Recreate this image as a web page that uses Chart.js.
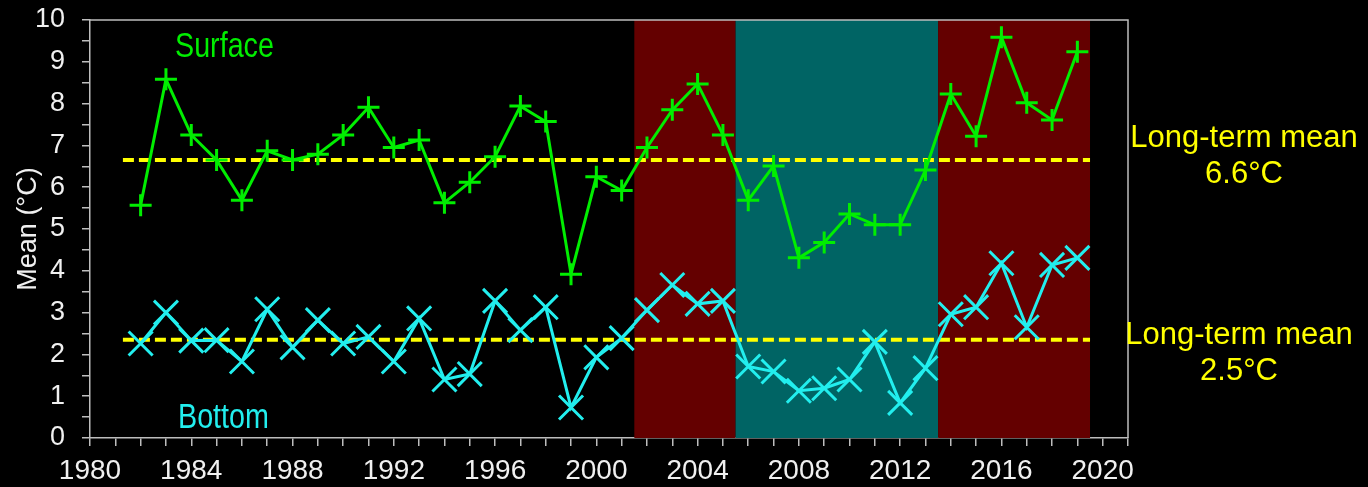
<!DOCTYPE html>
<html>
<head>
<meta charset="utf-8">
<script src="https://cdn.jsdelivr.net/npm/chart.js@4"></script>
<style>
  html, body { margin: 0; padding: 0; background: #000; }
  #wrap { width: 1368px; height: 487px; position: relative; }
</style>
</head>
<body>
<div id="wrap"><canvas id="meanChart"></canvas></div>
<script>
// Years and series values
const years = [1982, 1983, 1984, 1985, 1986, 1987, 1988, 1989, 1990, 1991,
  1992, 1993, 1994, 1995, 1996, 1997, 1998, 1999, 2000, 2001,
  2002, 2003, 2004, 2005, 2006, 2007, 2008, 2009, 2010, 2011,
  2012, 2013, 2014, 2015, 2016, 2017, 2018, 2019];
const surfaceValues = [5.57, 8.58, 7.25, 6.65, 5.69, 6.87, 6.65, 6.79, 7.25, 7.91,
  6.95, 7.13, 5.63, 6.12, 6.73, 7.94, 7.57, 3.92, 6.25, 5.92,
  6.95, 7.85, 8.47, 7.25, 5.69, 6.51, 4.31, 4.68, 5.36, 5.10,
  5.10, 6.41, 8.23, 7.22, 9.59, 8.02, 7.61, 9.24];
const bottomValues = [2.26, 3.00, 2.33, 2.34, 1.83, 3.08, 2.17, 2.82, 2.26, 2.42,
  1.83, 2.86, 1.40, 1.53, 3.28, 2.58, 3.13, 0.73, 1.93, 2.39,
  3.06, 3.66, 3.21, 3.28, 1.71, 1.59, 1.13, 1.19, 1.40, 2.30,
  0.84, 1.67, 2.96, 3.13, 4.18, 2.65, 4.14, 4.31];

// Long-term mean lines (value drawn, label text) and their span in years
const meanLevels = [6.65, 2.35];
const meanLabels = ['6.6°C', '2.5°C'];
const meanSpan = [1981.3, 2019.5];

// Shaded periods
const periodStarts = [2001.5, 2005.5, 2013.5];
const periodEnds = [2005.5, 2013.5, 2019.5];
const periodColors = ['#640000', '#006464', '#640000'];

// Axis ranges and labelled ticks
const xMin = 1980, xMax = 2021;
const xTickLabels = [1980, 1984, 1988, 1992, 1996, 2000, 2004, 2008, 2012, 2016, 2020];
const yMin = 0, yMax = 10;

const surfaceData = years.map((y, i) => ({ x: y, y: surfaceValues[i] }));
const bottomData = years.map((y, i) => ({ x: y, y: bottomValues[i] }));

function meanDataset(level) {
  return {
    data: meanSpan.map(x => ({ x: x, y: level })),
    borderColor: '#ffff00',
    borderWidth: 4,
    borderDash: [11, 5],
    pointRadius: 0,
    order: 3
  };
}

// Background periods, frame and text labels
const decorPlugin = {
  id: 'decor',
  beforeDatasetsDraw(chart) {
    const ctx = chart.ctx;
    const xs = chart.scales.x;
    const area = chart.chartArea;
    ctx.save();
    periodStarts.forEach((start, i) => {
      const x0 = xs.getPixelForValue(start);
      const x1 = xs.getPixelForValue(periodEnds[i]);
      ctx.fillStyle = periodColors[i];
      ctx.fillRect(x0, area.top, x1 - x0, area.bottom - area.top);
    });
    ctx.restore();
  },
  afterDraw(chart) {
    const ctx = chart.ctx;
    const ys = chart.scales.y;
    const area = chart.chartArea;
    ctx.save();
    // top and right frame
    ctx.strokeStyle = '#bdbdbd';
    ctx.lineWidth = 1.5;
    ctx.beginPath();
    ctx.moveTo(area.left, area.top);
    ctx.lineTo(area.right, area.top);
    ctx.lineTo(area.right, area.bottom);
    ctx.stroke();

    // series labels, narrow face (squeezed horizontally)
    ctx.textAlign = 'left';
    ctx.textBaseline = 'alphabetic';
    ctx.font = '35px "Liberation Sans", Arial, sans-serif';
    ctx.save();
    ctx.scale(0.82, 1);
    ctx.fillStyle = '#00ee00';
    ctx.fillText('Surface', 175 / 0.82, 57);
    ctx.fillStyle = '#22eeee';
    ctx.fillText('Bottom', 178 / 0.82, 428);
    ctx.restore();

    // long-term mean labels
    ctx.textAlign = 'center';
    ctx.textBaseline = 'middle';
    ctx.font = '31px "Liberation Sans", Arial, sans-serif';
    ctx.fillStyle = '#ffff00';
    const offsets = [-3, 15];
    const centres = [1244, 1239];
    meanLevels.forEach((lvl, i) => {
      const cy = ys.getPixelForValue(lvl) + offsets[i];
      ctx.fillText('Long-term mean', centres[i], cy - 19);
      ctx.fillText(meanLabels[i], centres[i], cy + 17);
    });
    ctx.restore();
  }
};

const ctx = document.getElementById('meanChart').getContext('2d');
new Chart(ctx, {
  type: 'line',
  data: {
    datasets: [
      {
        data: surfaceData,
        borderColor: '#00ee00',
        borderWidth: 3,
        pointStyle: 'cross',
        pointRadius: 11,
        pointBorderWidth: 3,
        pointBorderColor: '#00ee00',
        order: 1
      },
      {
        data: bottomData,
        borderColor: '#22eeee',
        borderWidth: 3,
        pointStyle: 'crossRot',
        pointRadius: 17,
        pointBorderWidth: 3,
        pointBorderColor: '#22eeee',
        order: 1
      },
      meanDataset(meanLevels[0]),
      meanDataset(meanLevels[1])
    ]
  },
  options: {
    responsive: true,
    maintainAspectRatio: false,
    animation: false,
    events: [],
    layout: { padding: { top: 19, right: 240, left: 0, bottom: 0 } },
    plugins: { legend: { display: false }, tooltip: { enabled: false } },
    scales: {
      x: {
        type: 'linear',
        min: xMin,
        max: xMax,
        afterFit(scale) {
          scale.height = 49;
          scale.paddingLeft = 0;
          scale.paddingRight = 0;
        },
        afterBuildTicks(scale) {
          const t = [];
          for (let v = xMin; v <= xMax; v++) t.push({ value: v });
          scale.ticks = t;
        },
        ticks: {
          autoSkip: false,
          maxRotation: 0,
          padding: 8,
          color: '#f0f0f0',
          font: { family: '"Liberation Sans", Arial, sans-serif', size: 28 },
          callback: v => xTickLabels.includes(v) ? String(v) : ''
        },
        grid: { drawOnChartArea: false, tickLength: 8, color: '#bdbdbd', lineWidth: 1.5 },
        border: { color: '#bdbdbd', width: 1.5 }
      },
      y: {
        min: yMin,
        max: yMax,
        afterFit(scale) {
          scale.width = 90;
          scale.paddingTop = 0;
          scale.paddingBottom = 0;
        },
        afterBuildTicks(scale) {
          const t = [];
          for (let v = yMin; v <= yMax + 1e-9; v += 0.5) t.push({ value: v });
          scale.ticks = t;
        },
        ticks: {
          autoSkip: false,
          padding: 17,
          color: '#f0f0f0',
          font: { family: '"Liberation Sans", Arial, sans-serif', size: 27 },
          callback: v => Number.isInteger(v) ? String(v) : ''
        },
        title: {
          display: true,
          text: 'Mean (°C)',
          color: '#f0f0f0',
          font: { family: '"Liberation Sans", Arial, sans-serif', size: 27 },
          padding: { top: 12, bottom: 0 }
        },
        grid: { drawOnChartArea: false, tickLength: 8, color: '#bdbdbd', lineWidth: 1.5 },
        border: { color: '#bdbdbd', width: 1.5 }
      }
    }
  },
  plugins: [decorPlugin]
});
</script>
</body>
</html>
